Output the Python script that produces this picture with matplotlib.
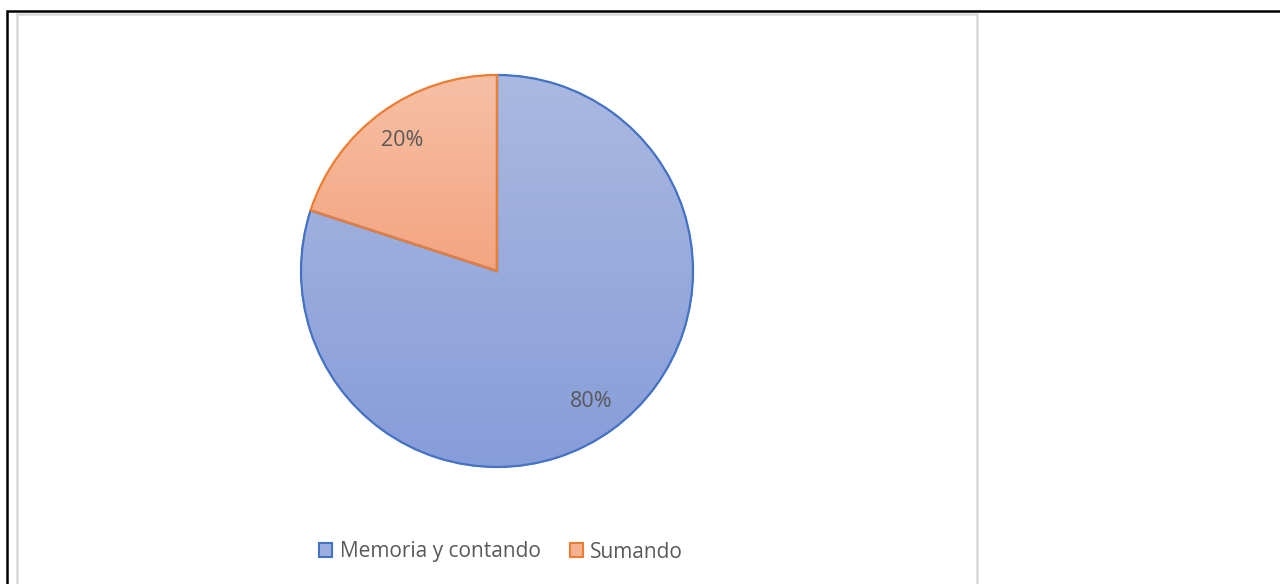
import matplotlib.pyplot as plt
import numpy as np
from matplotlib.colors import LinearSegmentedColormap
from matplotlib.patches import PathPatch, Rectangle

labels = ['Memoria y contando', 'Sumando']
shares = [80, 20]
edge_colors = ['#4472C4', '#ED7D31']
top_colors = ['#AAB9E1', '#F6C0A5']
bottom_colors = ['#879DD9', '#F4A480']

W, H = 1280, 584
plt.rcParams['font.family'] = ['Open Sans', 'DejaVu Sans']

fig = plt.figure(figsize=(W / 100, H / 100), dpi=100)
ax = fig.add_axes([0, 0, 1, 1])

cx, cy, r = 497, H - 271, 196
wedges, _, pct_texts = ax.pie(
    shares, colors=bottom_colors, startangle=90, counterclock=False,
    center=(cx, cy), radius=r, autopct='%1.0f%%', pctdistance=0.82,
    wedgeprops=dict(edgecolor='none'),
    textprops=dict(color='#595959', fontsize=15.5))

# vertical gradient fill for each slice, spanning the slice's own extent
for w, top, bot, ec in zip(wedges, top_colors, bottom_colors, edge_colors):
    path = w.get_path()
    verts = path.vertices
    y0, y1 = verts[:, 1].min(), verts[:, 1].max()
    cmap = LinearSegmentedColormap.from_list('g', [bot, top])
    grad = np.linspace(0, 1, 256).reshape(-1, 1)
    im = ax.imshow(grad, cmap=cmap, origin='lower', aspect='auto',
                   extent=(cx - r, cx + r, y0, y1), zorder=1,
                   interpolation='bilinear')
    im.set_clip_path(w)
    ax.add_patch(PathPatch(path, fill=False, edgecolor=ec,
                           linewidth=1.6, zorder=3))
    w.set_edgecolor(ec)
for t in pct_texts:
    t.set_zorder(4)

ax.set_xlim(0, W)
ax.set_ylim(0, H)
ax.set_aspect('auto')
ax.axis('off')

# outer black frame and light chart-area border
ax.add_patch(Rectangle((7, -20), W + 20, H - 11 + 20, fill=False,
                       edgecolor='black', linewidth=1.8, clip_on=False, zorder=5))
ax.add_patch(Rectangle((17, -20), 960, H - 14 + 20, fill=False,
                       edgecolor='#D9D9D9', linewidth=1.8, clip_on=False, zorder=5))

leg = fig.legend(wedges, labels, loc='center', ncol=2,
                 bbox_to_anchor=(501 / W, 1 - 552 / H), frameon=False,
                 handlelength=0.65, handleheight=0.65, handletextpad=0.35,
                 columnspacing=1.4, fontsize=15)
for txt in leg.get_texts():
    txt.set_color('#595959')
for h, fc, ec in zip(leg.legend_handles, ['#9DAEDE', '#F5B293'], edge_colors):
    h.set_facecolor(fc)
    h.set_edgecolor(ec)
    h.set_linewidth(1.5)

fig.savefig('out.png', dpi=100)
